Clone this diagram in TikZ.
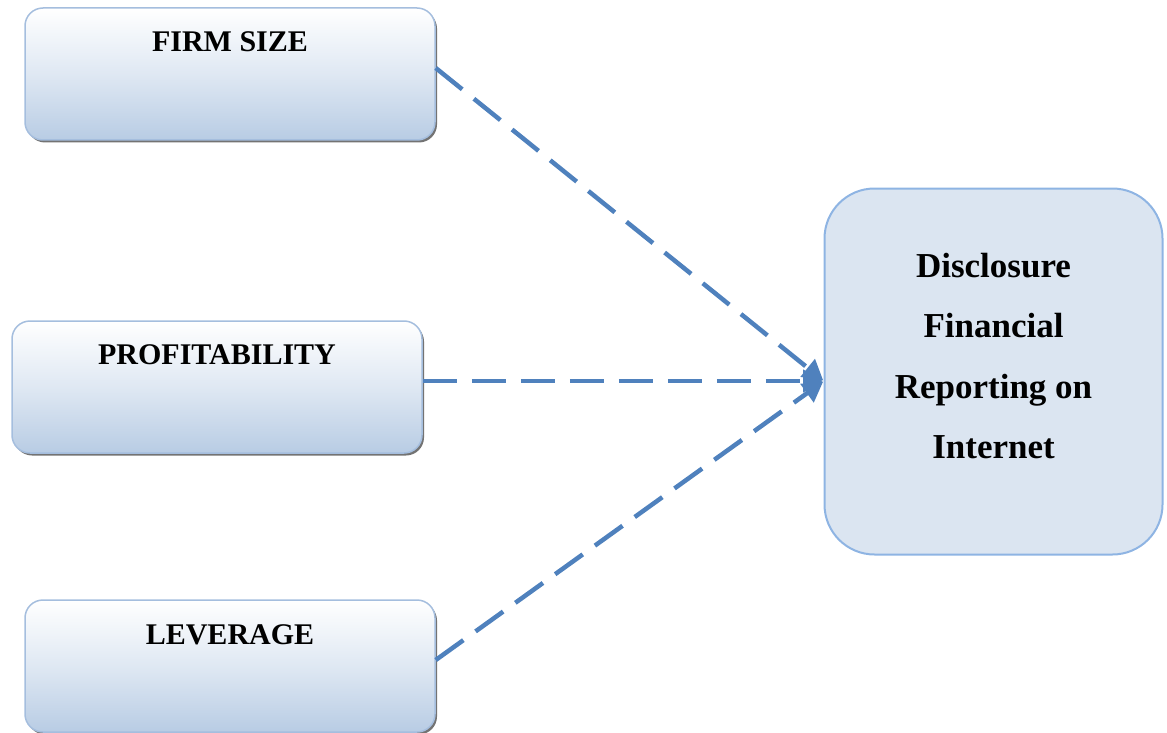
\documentclass[tikz,border=0pt]{standalone}
\usepackage{fontspec}
\setmainfont{Liberation Serif}
\usetikzlibrary{arrows.meta,shadows}
\definecolor{arrowblue}{RGB}{79,129,189}
\definecolor{boxedge}{RGB}{165,190,222}
\definecolor{boxbottom}{RGB}{184,204,228}
\definecolor{bigfill}{RGB}{219,229,241}
\definecolor{bigedge}{RGB}{142,180,227}
\tikzset{
  varbox/.style={draw=boxedge, line width=1.5pt, rounded corners=18pt,
    minimum width=410pt, minimum height=132pt, inner sep=0pt,
    top color=white, bottom color=boxbottom, middle color=white!55!boxbottom,
    shading angle=0,
    drop shadow={shadow xshift=2pt, shadow yshift=-2.5pt, fill=black!55, opacity=1}},
  vartext/.style={font=\bfseries\fontsize{30}{34}\selectfont, anchor=center},
  bigbox/.style={draw=bigedge, line width=2pt, rounded corners=50pt, fill=bigfill,
    minimum width=338pt, minimum height=366pt, inner sep=0pt},
  bigtext/.style={font=\bfseries\fontsize{35}{60.5}\selectfont, align=center},
  dasharrow/.style={draw=arrowblue, line width=4.5pt, dash pattern=on 34pt off 15pt,
    -{Triangle[length=20pt,width=22pt]}, shorten >=1pt},
}
\begin{document}
\begin{tikzpicture}[x=1pt,y=-1pt]
\useasboundingbox (0,0) rectangle (1167,733);
\node[varbox] (fs) at (230,74) {};
\node[vartext] (fst) at (230,42) {FIRM SIZE};
\node[varbox] (pr) at (217,387) {};
\node[vartext] (prt) at (217,355) {PROFITABILITY};
\node[varbox] (lv) at (230,666) {};
\node[vartext] (lvt) at (230,635) {LEVERAGE};
\node[bigbox] (dfr) at (993.5,371.5) {};
\node[bigtext] (dfrt) at (993.5,356) {Disclosure\\Financial\\Reporting on\\Internet};
\coordinate (tip) at (824,381);
\draw[dasharrow] ([yshift=6pt]fs.east) -- (tip);
\draw[dasharrow] ([yshift=6pt]pr.east) -- (tip);
\draw[dasharrow] ([yshift=6pt]lv.east) -- (tip);
\end{tikzpicture}
\end{document}
